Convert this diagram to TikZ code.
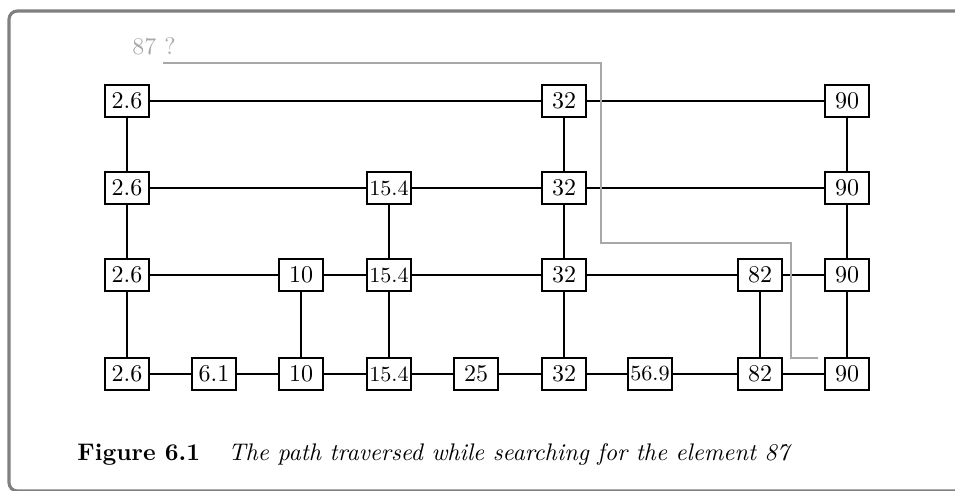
\documentclass[tikz,border=0pt]{standalone}
\usepackage{tikz}
\usetikzlibrary{positioning}
\definecolor{framegray}{gray}{0.5}
\definecolor{trailgray}{gray}{0.66}

\begin{document}
\begin{tikzpicture}[x=0.4167pt, y=-0.4167pt,
  elem/.style={draw, line width=0.8pt, minimum width=18.5pt, minimum height=13.6pt, inner sep=1pt},
  link/.style={line width=0.8pt},
  trail/.style={trailgray, line width=0.6pt}]
\useasboundingbox (0,0) rectangle (955,490);
\draw[framegray, line width=1.3pt, rounded corners=3.5pt] (958,11) -| (9,491) -- (958,491);

% level 3
\node[elem] (L3n1) at (127,101) {2.6};
\node[elem] (L3n6) at (564,101) {32};
\node[elem] (L3n9) at (847,101) {90};
% level 2
\node[elem] (L2n1) at (127,188) {2.6};
\node[elem] (L2n4) at (389,188) {\small 15.4};
\node[elem] (L2n6) at (564,188) {32};
\node[elem] (L2n9) at (847,188) {90};
% level 1
\node[elem] (L1n1) at (127,275) {2.6};
\node[elem] (L1n3) at (301,275) {10};
\node[elem] (L1n4) at (389,275) {\small 15.4};
\node[elem] (L1n6) at (564,275) {32};
\node[elem] (L1n8) at (760,275) {82};
\node[elem] (L1n9) at (847,275) {90};
% level 0
\node[elem] (L0n1) at (127,374) {2.6};
\node[elem] (L0n2) at (214,374) {6.1};
\node[elem] (L0n3) at (301,374) {10};
\node[elem] (L0n4) at (389,374) {\small 15.4};
\node[elem] (L0n5) at (476,374) {25};
\node[elem] (L0n6) at (564,374) {32};
\node[elem] (L0n7) at (650,374) {\small 56.9};
\node[elem] (L0n8) at (760,374) {82};
\node[elem] (L0n9) at (847,374) {90};

\draw[link]
	(L3n1) edge (L3n6)
	(L3n6) edge (L3n9)
	(L2n1) edge (L2n4)
	(L2n4) edge (L2n6)
	(L2n6) edge (L2n9)
	(L1n1) edge (L1n3)
	(L1n3) edge (L1n4)
	(L1n4) edge (L1n6)
	(L1n6) edge (L1n8)
	(L1n8) edge (L1n9)
	(L0n1) edge (L0n2)
	(L0n2) edge (L0n3)
	(L0n3) edge (L0n4)
	(L0n4) edge (L0n5)
	(L0n5) edge (L0n6)
	(L0n6) edge (L0n7)
	(L0n7) edge (L0n8)
	(L0n8) edge (L0n9)
;
\draw[link]
	(L3n1) edge (L2n1)
	(L2n1) edge (L1n1)
	(L1n1) edge (L0n1)
	(L1n3) edge (L0n3)
	(L2n4) edge (L1n4)
	(L1n4) edge (L0n4)
	(L3n6) edge (L2n6)
	(L2n6) edge (L1n6)
	(L1n6) edge (L0n6)
	(L1n8) edge (L0n8)
	(L3n9) edge (L2n9)
	(L2n9) edge (L1n9)
	(L1n9) edge (L0n9)
;

% search path
\node[trailgray, inner sep=0pt] (query) at (154,46) {87 ?};
\coordinate (start) at (163,63);
\coordinate (stop) at (818,358);
\draw[trail] (start) -| (601,243) -| (791,358) -- (stop);

\node[anchor=base west, inner sep=0pt] (fignum) at (77,460) {\textbf{Figure 6.1}};
\node[anchor=base west, inner sep=0pt] (figtext) at (228,460) {\textit{The path traversed while searching for the element 87}};
\end{tikzpicture}
\end{document}
